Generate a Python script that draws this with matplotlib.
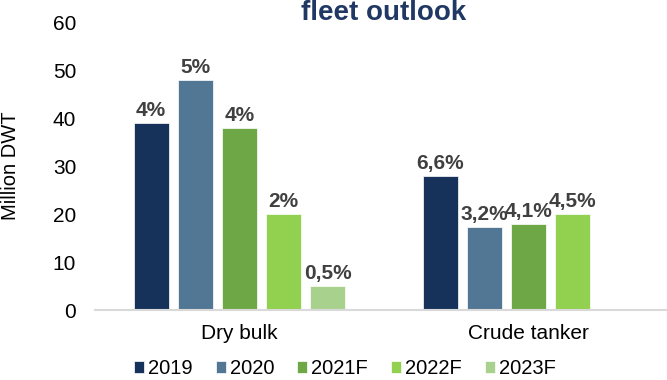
import matplotlib
matplotlib.use("Agg")
import matplotlib.pyplot as plt
import numpy as np

plt.rcParams['font.family'] = ['Liberation Sans', 'DejaVu Sans']

# fleet size per segment and year (million DWT) with growth labels
categories = ["Dry bulk", "Crude tanker"]
years = ["2019", "2020", "2021F", "2022F", "2023F"]
dry_bulk = [39, 48, 38, 20, 5]
crude_tanker = [28, 17.3, 18, 20, None]
dry_bulk_labels = ["4%", "5%", "4%", "2%", "0,5%"]
crude_tanker_labels = ["6,6%", "3,2%", "4,1%", "4,5%", None]
colors = ["#17325A", "#527795", "#6EA846", "#92D050", "#A9D18E"]

fig = plt.figure(figsize=(6.67, 3.8), dpi=100)
ax = fig.add_axes([95 / 667, 1 - 310 / 380, 578 / 667, 288 / 380])

x = np.arange(len(categories))
slot = 0.153
width = 0.121
for i, year in enumerate(years):
    vals = [dry_bulk[i], crude_tanker[i]]
    labs = [dry_bulk_labels[i], crude_tanker_labels[i]]
    xs = [x[j] + (i - 2) * slot for j in range(len(categories)) if vals[j] is not None]
    hs = [v for v in vals if v is not None]
    ls = [l for l, v in zip(labs, vals) if v is not None]
    ax.bar(xs, hs, width, color=colors[i], edgecolor="white", linewidth=0.5, label=year)
    for xx, hh, ll in zip(xs, hs, ls):
        ax.annotate(ll, (xx, hh), xytext=(0, 2), textcoords="offset points",
                    ha="center", va="bottom", fontsize=15, fontweight="bold", color="#404040")

ax.set_xlim(-0.5, 1.5)
ax.set_ylim(0, 60)
ax.set_yticks(range(0, 61, 10))
ax.set_xticks(x)
ax.set_xticklabels(categories)
ax.tick_params(axis="both", length=0, labelsize=15, colors="black")
ax.tick_params(axis="y", pad=13.5)
ax.tick_params(axis="x", pad=10)
for s in ["top", "right", "left"]:
    ax.spines[s].set_visible(False)
ax.spines["bottom"].set_color("#D9D9D9")
ax.spines["bottom"].set_linewidth(1.5)

ax.set_ylabel("Million DWT", fontsize=14.5)
ax.yaxis.set_label_coords((19.5 - 95) / 578, 0.5)

fig.text(384 / 667, 1 - 13 / 380, "fleet outlook", ha="center", va="center",
         fontsize=20, fontweight="bold", color="#1F3864")

# legend row sits right at the bottom edge
fig.legend(loc="center", bbox_to_anchor=(345 / 667, 1 - 368.5 / 380), ncol=5,
           frameon=False, fontsize=14.5, handlelength=0.5, handleheight=0.5,
           handletextpad=0.2, columnspacing=1.15, borderpad=0)

fig.savefig("out.png", dpi=100)
